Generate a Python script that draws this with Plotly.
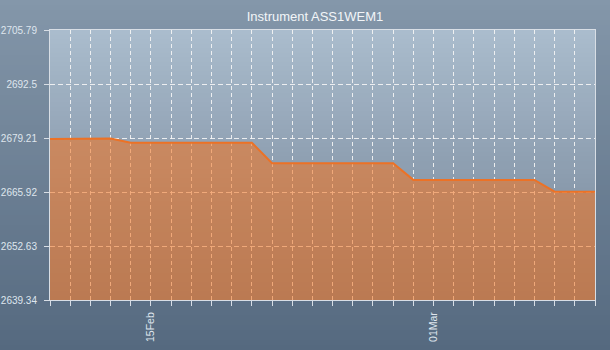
import plotly.graph_objects as go
import pandas as pd

# ---- data ----
dates = pd.date_range("2023-02-10", "2023-03-09", freq="D").strftime("%Y-%m-%d").tolist()
values = [2678.95, 2679.0, 2679.1, 2679.1,
          2678.05, 2678.05, 2678.05, 2678.05, 2678.05, 2678.05, 2678.05,
          2673.0, 2673.0, 2673.0, 2673.0, 2673.0, 2673.0, 2673.0,
          2668.9, 2668.9, 2668.9, 2668.9, 2668.9, 2668.9, 2668.9,
          2666.0, 2666.0, 2666.0]
y_ticks = [2639.34, 2652.63, 2665.92, 2679.21, 2692.5, 2705.79]
y_ticktext = ["2639.34", "2652.63", "2665.92", "2679.21", "2692.5", "2705.79"]
x_labels = {"2023-02-15": "15Feb", "2023-03-01": "01Mar"}
title = "Instrument ASS1WEM1"

W, H = 610, 350
ML, MR, MT, MB = 50, 15, 30, 50
PW, PH = W - ML - MR, H - MT - MB


def lerp(c1, c2, t):
    return tuple(round(a + (b - a) * t) for a, b in zip(c1, c2))


shapes = []
# paper gradient
paper_top, paper_bot = (132, 151, 170), (85, 105, 127)
N = 70
for i in range(N):
    p0 = i * H / N
    p1 = (i + 1) * H / N + 0.6
    c = lerp(paper_top, paper_bot, (i + 0.5) / N)
    shapes.append(dict(type="rect", xref="paper", yref="paper", layer="below",
                       x0=-ML / PW, x1=1 + MR / PW,
                       y0=1 + (MT - p1) / PH, y1=1 + (MT - p0) / PH,
                       fillcolor="rgb(%d,%d,%d)" % c, line=dict(width=0)))
# plot area gradient
plot_top, plot_bot = (170, 188, 205), (114, 130, 149)
M = 60
for i in range(M):
    c = lerp(plot_top, plot_bot, (i + 0.5) / M)
    shapes.append(dict(type="rect", xref="paper", yref="paper", layer="below",
                       x0=0, x1=1, y0=1 - (i + 1) / M - 0.002, y1=1 - i / M,
                       fillcolor="rgb(%d,%d,%d)" % c, line=dict(width=0)))

fig = go.Figure()
fig.add_trace(go.Scatter(
    x=dates, y=values, mode="lines", fill="tozeroy",
    line=dict(color="rgb(236,114,38)", width=2),
    fillcolor="rgba(245,116,30,0.56)", hoverinfo="x+y", showlegend=False,
))

axis_font = dict(family="Liberation Sans, Arial, sans-serif", size=10, color="#dfe6ee")
fig.update_layout(
    width=W, height=H,
    margin=dict(l=ML, r=MR, t=MT, b=MB, pad=0, autoexpand=False),
    paper_bgcolor="rgb(110,128,148)",
    plot_bgcolor="rgba(0,0,0,0)",
    shapes=shapes,
    title=dict(text=title, x=315 / W, xref="container", xanchor="center",
               y=1 - 16 / H, yref="container", yanchor="middle",
               font=dict(family="Liberation Sans, Arial, sans-serif", size=13, color="#f2f5f8")),
    xaxis=dict(
        type="date", range=[dates[0], dates[-1]], automargin=False,
        tickvals=dates, ticktext=[x_labels.get(d, "") for d in dates],
        tickangle=-90, ticks="outside", ticklen=5, tickcolor="#d8dee5", tickwidth=1,
        ticklabelstandoff=2,
        showgrid=True, gridcolor="rgba(245,245,245,0.9)", gridwidth=1, griddash="4px,3px",
        showline=True, linecolor="#d8dee5", linewidth=1, mirror=True,
        zeroline=False, tickfont=dict(axis_font, size=10.5),
    ),
    yaxis=dict(
        range=[y_ticks[0], y_ticks[-1]], automargin=False,
        tickvals=y_ticks, ticktext=y_ticktext,
        ticks="outside", ticklen=5, tickcolor="#d8dee5", tickwidth=1,
        ticklabelstandoff=5,
        showgrid=True, gridcolor="rgba(245,245,245,0.9)", gridwidth=1, griddash="5px,3px",
        showline=True, linecolor="#d8dee5", linewidth=1, mirror=True,
        zeroline=False, tickfont=axis_font,
    ),
)

fig.write_html("out.html")
